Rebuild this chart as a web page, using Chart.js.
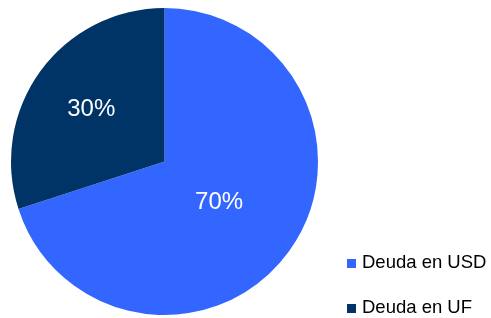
<!DOCTYPE html>
<html>
<head>
<meta charset="utf-8">
<script src="https://cdn.jsdelivr.net/npm/chart.js@4"></script>
<style>
  html, body { margin: 0; padding: 0; background: #ffffff; }
  #wrap { position: relative; width: 491px; height: 318px; }
  canvas { position: absolute; left: 0; top: 0; }
  .leg { position: absolute; left: 347px; font-family: "Liberation Sans", Arial, sans-serif; font-size: 18.5px; color: #000; line-height: 20px; white-space: nowrap; }
  .leg span.sw { display: inline-block; width: 9px; height: 9px; margin-right: 6px; vertical-align: 0px; }
</style>
</head>
<body>
<div id="wrap">
  <canvas id="c" width="491" height="318"></canvas>
  <div id="legend"></div>
</div>
<script>
const categories = ["Deuda en USD", "Deuda en UF"];
const values = [70, 30];
const valueLabels = ["70%", "30%"];
const colors = ["#3366FF", "#003366"];

const labelRadius = [0.44, 0.59];

const pctPlugin = {
  id: 'pctLabels',
  afterDatasetsDraw(chart) {
    const ctx = chart.ctx;
    const meta = chart.getDatasetMeta(0);
    ctx.save();
    ctx.fillStyle = '#ffffff';
    ctx.font = '24px "Liberation Sans", Arial, sans-serif';
    ctx.textAlign = 'center';
    ctx.textBaseline = 'middle';
    meta.data.forEach((arc, i) => {
      const p = arc.getProps(['x', 'y', 'startAngle', 'endAngle', 'outerRadius'], true);
      const mid = (p.startAngle + p.endAngle) / 2;
      const r = p.outerRadius * labelRadius[i];
      ctx.fillText(valueLabels[i], p.x + Math.cos(mid) * r, p.y + Math.sin(mid) * r + 1);
    });
    ctx.restore();
  }
};

new Chart(document.getElementById('c'), {
  type: 'pie',
  data: {
    labels: categories,
    datasets: [{
      data: values,
      backgroundColor: colors,
      borderWidth: 0
    }]
  },
  options: {
    responsive: false,
    animation: false,
    layout: { padding: { left: 11, top: 8, right: 173, bottom: 3 } },
    plugins: {
      legend: { display: false },
      tooltip: { enabled: false }
    }
  },
  plugins: [pctPlugin]
});

const legendTops = [252, 297];
const legend = document.getElementById('legend');
categories.forEach((name, i) => {
  const d = document.createElement('div');
  d.className = 'leg';
  d.style.top = legendTops[i] + 'px';
  d.innerHTML = '<span class="sw" style="background:' + colors[i] + '"></span>' + name;
  legend.appendChild(d);
});
</script>
</body>
</html>
